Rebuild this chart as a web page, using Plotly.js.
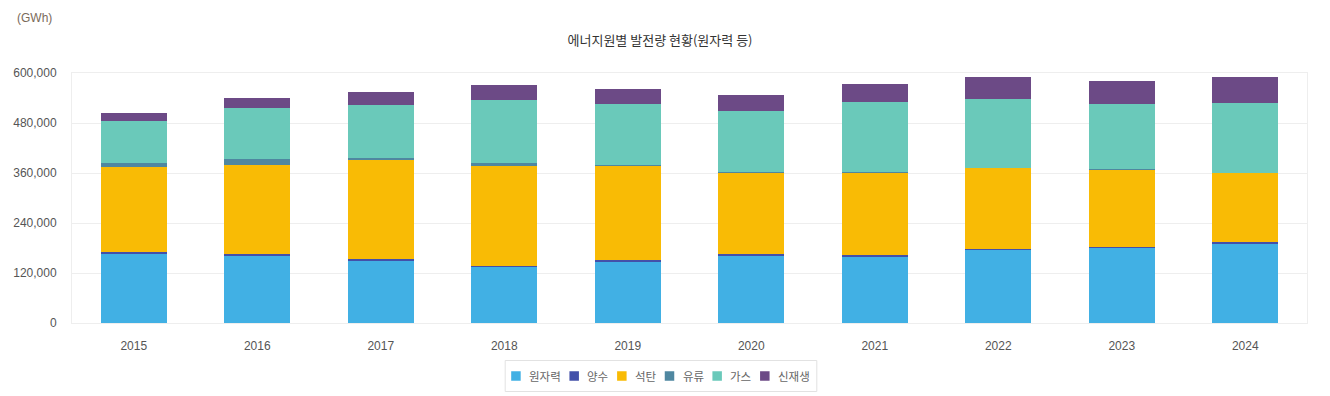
<!DOCTYPE html>
<html>
<head>
<meta charset="utf-8">
<script src="https://cdn.plot.ly/plotly-3.0.1.min.js"></script>
<style>
html,body{margin:0;padding:0;background:#fff;}
#chart{width:1330px;height:396px;}
</style>
</head>
<body>
<div id="chart"></div>
<script>
const years = ['2015','2016','2017','2018','2019','2020','2021','2022','2023','2024'];
const seriesNames = ['원자력','양수','석탄','유류','가스','신재생'];
const nuclear = [164762,161995,148427,133505,145910,160184,158015,176054,180500,188754];
const pumped  = [4500,4500,4500,4500,4500,4500,4500,2500,2500,4500];
const coal    = [204230,213803,238799,238967,227384,196333,197966,193232,184900,167000];
const oil     = [9800,14000,4800,6500,2500,1500,1500,1200,1200,800];
const gas     = [100784,121018,126039,152924,144355,145911,168262,163574,157700,168000];
const renew   = [19500,25000,30800,35600,36392,38400,43000,53000,55000,62400];
const yTicks  = [0,120000,240000,360000,480000,600000];
const yTickText = ['0','120,000','240,000','360,000','480,000','600,000'];

const colors = ['#41B0E4','#4350A9','#F9BB05','#4F87A0','#6AC9BA','#6C4A86'];
const values = [nuclear,pumped,coal,oil,gas,renew];
const font = '"Liberation Sans", Arial, "Noto Sans CJK KR", sans-serif';
const krFont = '"Noto Sans CJK KR", sans-serif';

const W = 1330, H = 396;
const M = {l:72, r:23, t:73, b:73};
const PW = W - M.l - M.r, PH = H - M.t - M.b;
const px2x = p => (p - M.l) / PW;
const py2y = p => (H - M.b - p) / PH;

const traces = values.map((v,i)=>({
  type:'bar', name:seriesNames[i], x:years, y:v,
  marker:{color:colors[i], line:{width:0}},
  hoverinfo:'none', showlegend:false
}));

// custom compact legend (box, squares, labels)
const legSize = 11.5;
const cv = document.createElement('canvas').getContext('2d');
cv.font = legSize + 'px "Noto Sans CJK KR"';
const tw = seriesNames.map(s => cv.measureText(s).width);
const sq = 9.5, sqGap = 7.5, itemGap = 9.5, padL = 6, padR = 8;
let total = padL + padR;
tw.forEach((w,i)=>{ total += sq + sqGap + w + (i < tw.length-1 ? itemGap : 0); });
const legCenter = 661, boxTop = 360.5, boxBot = 391.5, midY = 376;
let cx = legCenter - total/2;
const shapes = [{
  type:'rect', xref:'paper', yref:'paper',
  x0:px2x(cx), x1:px2x(cx+total), y0:py2y(boxBot), y1:py2y(boxTop),
  line:{color:'#e2e2e2', width:1}, fillcolor:'#fff', layer:'above'
}];
const annotations = [{
  text:'(GWh)', xref:'paper', yref:'paper', x:px2x(15), y:py2y(18), xanchor:'left', yanchor:'middle',
  showarrow:false, font:{family:font, size:12, color:'#7a6a5a'}
}];
let x = cx + padL;
seriesNames.forEach((s,i)=>{
  shapes.push({type:'rect', xref:'paper', yref:'paper',
    x0:px2x(x), x1:px2x(x+sq), y0:py2y(midY+sq/2), y1:py2y(midY-sq/2),
    line:{width:0}, fillcolor:colors[i], layer:'above'});
  x += sq + sqGap;
  annotations.push({text:s, xref:'paper', yref:'paper', x:px2x(x-1), y:py2y(midY), xanchor:'left', yanchor:'middle',
    showarrow:false, font:{family:krFont, size:legSize, color:'#666'}});
  x += tw[i] + itemGap;
});

const layout = {
  width:W, height:H,
  margin:M,
  paper_bgcolor:'#fff', plot_bgcolor:'#fff',
  barmode:'stack', bargap:0.465,
  font:{family:font, size:12, color:'#555'},
  title:{text:'에너지원별 발전량 현황(원자력 등)', x:px2x(660)*PW/W + M.l/W, xanchor:'center', y:1-40/H, yanchor:'middle',
         font:{family:krFont, size:13, color:'#333'}},
  xaxis:{type:'category', showgrid:false, showline:true, linecolor:'#eeeeee', linewidth:1, mirror:true,
         ticks:'', ticklabelstandoff:12, tickfont:{size:12, color:'#555'}, fixedrange:true},
  yaxis:{range:[0,600000], tickvals:yTicks, ticktext:yTickText, showgrid:true, gridcolor:'#eeeeee',
         showline:true, linecolor:'#eeeeee', mirror:true, zeroline:false, ticks:'', ticklabelstandoff:12,
         tickfont:{size:12, color:'#555'}, fixedrange:true},
  showlegend:false,
  shapes:shapes,
  annotations:annotations
};

Plotly.newPlot('chart', traces, layout, {displayModeBar:false, staticPlot:true});
</script>
</body>
</html>
